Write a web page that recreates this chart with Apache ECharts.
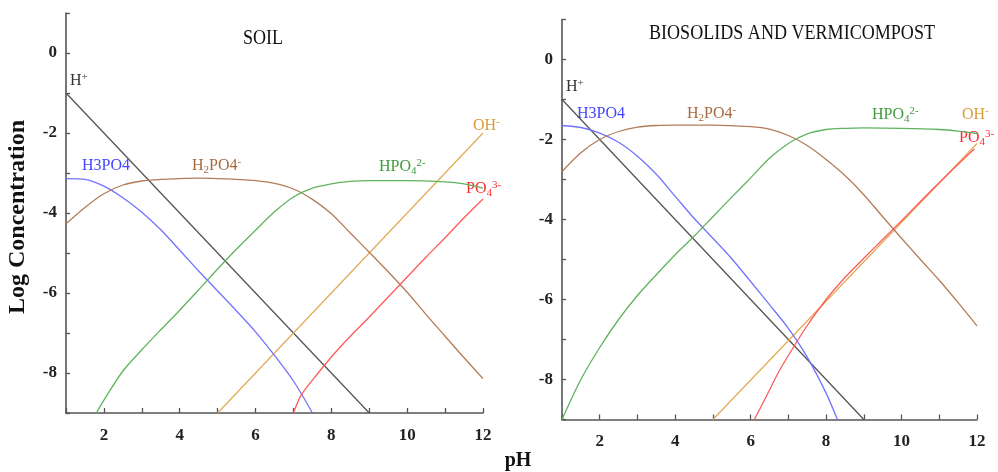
<!DOCTYPE html>
<html>
<head>
<meta charset="utf-8">
<script src="https://cdn.jsdelivr.net/npm/echarts@6/dist/echarts.min.js"></script>
<style>
  html, body { margin: 0; padding: 0; background: #fff; }
  #chart { width: 998px; height: 472px; }
</style>
</head>
<body>
<div id="chart"></div>
<script>
// pH axis ticks / log concentration axis
const phTicks = [1, 12];
const logTicks = [-9, 1];

// SOIL panel
const soilH = [[1, -1], [9, -9]];
const soilOH = [[5, -9], [12, -2]];
const soilH3PO4 = [[1, -3.14], [1.5, -3.16], [2, -3.33], [2.5, -3.62], [3, -3.98], [3.5, -4.42], [4, -4.93], [4.5, -5.45], [5, -5.95], [5.5, -6.45], [6, -6.97], [6.5, -7.56], [7, -8.2], [7.5, -9]];
const soilH2PO4 = [[1, -4.27], [1.5, -3.86], [2, -3.52], [2.5, -3.3], [3, -3.2], [3.5, -3.16], [4, -3.14], [4.5, -3.13], [5, -3.14], [5.5, -3.16], [6, -3.19], [6.5, -3.26], [7, -3.4], [7.5, -3.66], [8, -4.02], [8.5, -4.5], [9, -4.98], [9.5, -5.47], [10, -5.98], [10.5, -6.54], [11, -7.08], [11.5, -7.62], [12, -8.14]];
const soilHPO4 = [[1.8, -9], [2, -8.68], [2.5, -7.95], [3, -7.42], [3.5, -6.92], [4, -6.43], [4.5, -5.92], [5, -5.4], [5.5, -4.9], [6, -4.43], [6.5, -3.97], [7, -3.6], [7.5, -3.38], [8, -3.27], [8.5, -3.21], [9, -3.19], [10, -3.19], [11, -3.22], [11.5, -3.27], [12, -3.38]];
const soilPO4 = [[7, -9], [7.2, -8.56], [7.5, -8.18], [8, -7.6], [8.5, -7.08], [9, -6.6], [9.5, -6.1], [10, -5.6], [10.5, -5.1], [11, -4.62], [11.5, -4.12], [12, -3.65]];

// BIOSOLIDS AND VERMICOMPOST panel
const bioH = [[1, -1], [9, -9]];
const bioOH = [[5, -9], [12, -2.1]];
const bioH3PO4 = [[1, -1.65], [1.5, -1.7], [2, -1.84], [2.5, -2.07], [3, -2.42], [3.5, -2.87], [4, -3.42], [4.5, -3.97], [5, -4.47], [5.5, -4.98], [6, -5.55], [6.5, -6.13], [7, -6.72], [7.5, -7.44], [8, -8.34], [8.3, -9]];
const bioH2PO4 = [[1, -2.8], [1.5, -2.33], [2, -2.0], [2.5, -1.8], [3, -1.69], [3.5, -1.65], [4, -1.64], [5, -1.64], [6, -1.68], [6.5, -1.74], [7, -1.9], [7.5, -2.15], [8, -2.5], [8.5, -2.9], [9, -3.38], [9.5, -3.93], [10, -4.47], [10.5, -5.0], [11, -5.52], [11.5, -6.08], [12, -6.66]];
const bioHPO4 = [[1, -9], [1.5, -8.0], [2, -7.2], [2.5, -6.5], [3, -5.9], [3.5, -5.38], [4, -4.88], [4.5, -4.42], [5, -3.93], [5.5, -3.44], [6, -2.96], [6.5, -2.47], [7, -2.1], [7.5, -1.86], [8, -1.75], [8.5, -1.72], [9, -1.71], [10, -1.72], [11, -1.75], [11.5, -1.79], [12, -1.85]];
const bioPO4 = [[6.1, -9], [6.4, -8.45], [6.75, -7.8], [7, -7.4], [7.5, -6.65], [8, -6.0], [8.5, -5.45], [9, -4.97], [9.5, -4.5], [10, -4.03], [10.5, -3.55], [11, -3.08], [11.5, -2.62], [11.93, -2.24]];

const SERIF = '"Liberation Serif", "Times New Roman", serif';
const colors = {
  H: '#555555', OH: '#e3ab58', H3PO4: '#7272ff', H2PO4: '#b27c58', HPO4: '#5fb35f', PO4: '#ff5a5a'
};
const labelColors = {
  H: '#333333', OH: '#d99b35', H3PO4: '#4545ff', H2PO4: '#a8693f', HPO4: '#3d9b3d', PO4: '#ff2b2b'
};

const chart = echarts.init(document.getElementById('chart'));

function xAxisFor(gi) {
  return {
    type: 'value', gridIndex: gi, min: phTicks[0], max: phTicks[1], interval: 1,
    axisLine: { show: true, onZero: false, lineStyle: { color: '#555', width: 1.6 } },
    axisTick: { show: true, inside: true, length: 5, lineStyle: { color: '#555', width: 1.3 } },
    splitLine: { show: false },
    axisLabel: {
      margin: 14, color: '#222', fontFamily: SERIF, fontWeight: 'bold', fontSize: 17,
      formatter: v => (v % 2 === 0 ? String(v) : '')
    }
  };
}
function yAxisFor(gi) {
  return {
    type: 'value', gridIndex: gi, min: logTicks[0], max: logTicks[1], interval: 1,
    axisLine: { show: true, onZero: false, lineStyle: { color: '#555', width: 1.6 } },
    axisTick: { show: true, inside: true, length: 4, lineStyle: { color: '#555', width: 1.3 } },
    splitLine: { show: false },
    axisLabel: {
      margin: 9, color: '#222', fontFamily: SERIF, fontWeight: 'bold', fontSize: 17,
      formatter: v => (v % 2 === 0 && v <= 0 && v > -9 ? String(v) : '')
    }
  };
}
function line(data, key, gi) {
  return {
    type: 'line', data: data, xAxisIndex: gi, yAxisIndex: gi,
    showSymbol: false, smooth: 0.3, silent: true,
    lineStyle: { color: colors[key], width: 1.3 }
  };
}

const rich = {
  n: { fontSize: 16, fontFamily: SERIF, lineHeight: 19 },
  sub: { fontSize: 11, fontFamily: SERIF, lineHeight: 19, verticalAlign: 'bottom' },
  sup: { fontSize: 11, fontFamily: SERIF, lineHeight: 19, verticalAlign: 'top' }
};
const labelText = {
  H: '{n|H}{sup|+}',
  H3PO4: '{n|H3PO4}',
  H2PO4: '{n|H}{sub|2}{n|PO4}{sup|-}',
  HPO4: '{n|HPO}{sub|4}{sup|2-}',
  OH: '{n|OH}{sup|-}',
  PO4: '{n|PO}{sub|4}{sup|3-}'
};
const labelSpots = [
  ['H', 70, 81], ['H3PO4', 82, 166], ['H2PO4', 192, 166], ['HPO4', 379, 167], ['OH', 473, 126], ['PO4', 466, 189],
  ['H', 566, 87], ['H3PO4', 577, 114], ['H2PO4', 687, 114], ['HPO4', 872, 115], ['OH', 962, 115], ['PO4', 959, 138]
];

const graphic = labelSpots.map(([k, x, y]) => ({
  type: 'text', x: x, y: y, silent: true,
  style: { text: labelText[k], fill: labelColors[k], rich: rich, textVerticalAlign: 'middle', font: '16px ' + SERIF }
}));
graphic.push(
  { type: 'text', x: 263, y: 38, scaleX: 0.86, style: { text: 'SOIL', fill: '#111', font: '21px ' + SERIF, textAlign: 'center', textVerticalAlign: 'middle' } },
  { type: 'text', x: 792, y: 33, scaleX: 0.86, style: { text: 'BIOSOLIDS AND VERMICOMPOST', fill: '#111', font: '21px ' + SERIF, textAlign: 'center', textVerticalAlign: 'middle' } },
  { type: 'text', x: 18, y: 217, rotation: Math.PI / 2, style: { text: 'Log Concentration', fill: '#111', font: 'bold 24px ' + SERIF, textAlign: 'center', textVerticalAlign: 'middle' } },
  { type: 'text', x: 518, y: 461, style: { text: 'pH', fill: '#111', font: 'bold 20px ' + SERIF, textAlign: 'center', textVerticalAlign: 'middle' } }
);

chart.setOption({
  animation: false,
  backgroundColor: '#fff',
  grid: [
    { left: 66, top: 13, width: 417, height: 400 },
    { left: 562, top: 19.5, width: 415, height: 400 }
  ],
  xAxis: [xAxisFor(0), xAxisFor(1)],
  yAxis: [yAxisFor(0), yAxisFor(1)],
  series: [
    line(soilH, 'H', 0), line(soilOH, 'OH', 0), line(soilH3PO4, 'H3PO4', 0),
    line(soilH2PO4, 'H2PO4', 0), line(soilHPO4, 'HPO4', 0), line(soilPO4, 'PO4', 0),
    line(bioH, 'H', 1), line(bioOH, 'OH', 1), line(bioH3PO4, 'H3PO4', 1),
    line(bioH2PO4, 'H2PO4', 1), line(bioHPO4, 'HPO4', 1), line(bioPO4, 'PO4', 1)
  ],
  graphic: graphic
});
</script>
</body>
</html>
